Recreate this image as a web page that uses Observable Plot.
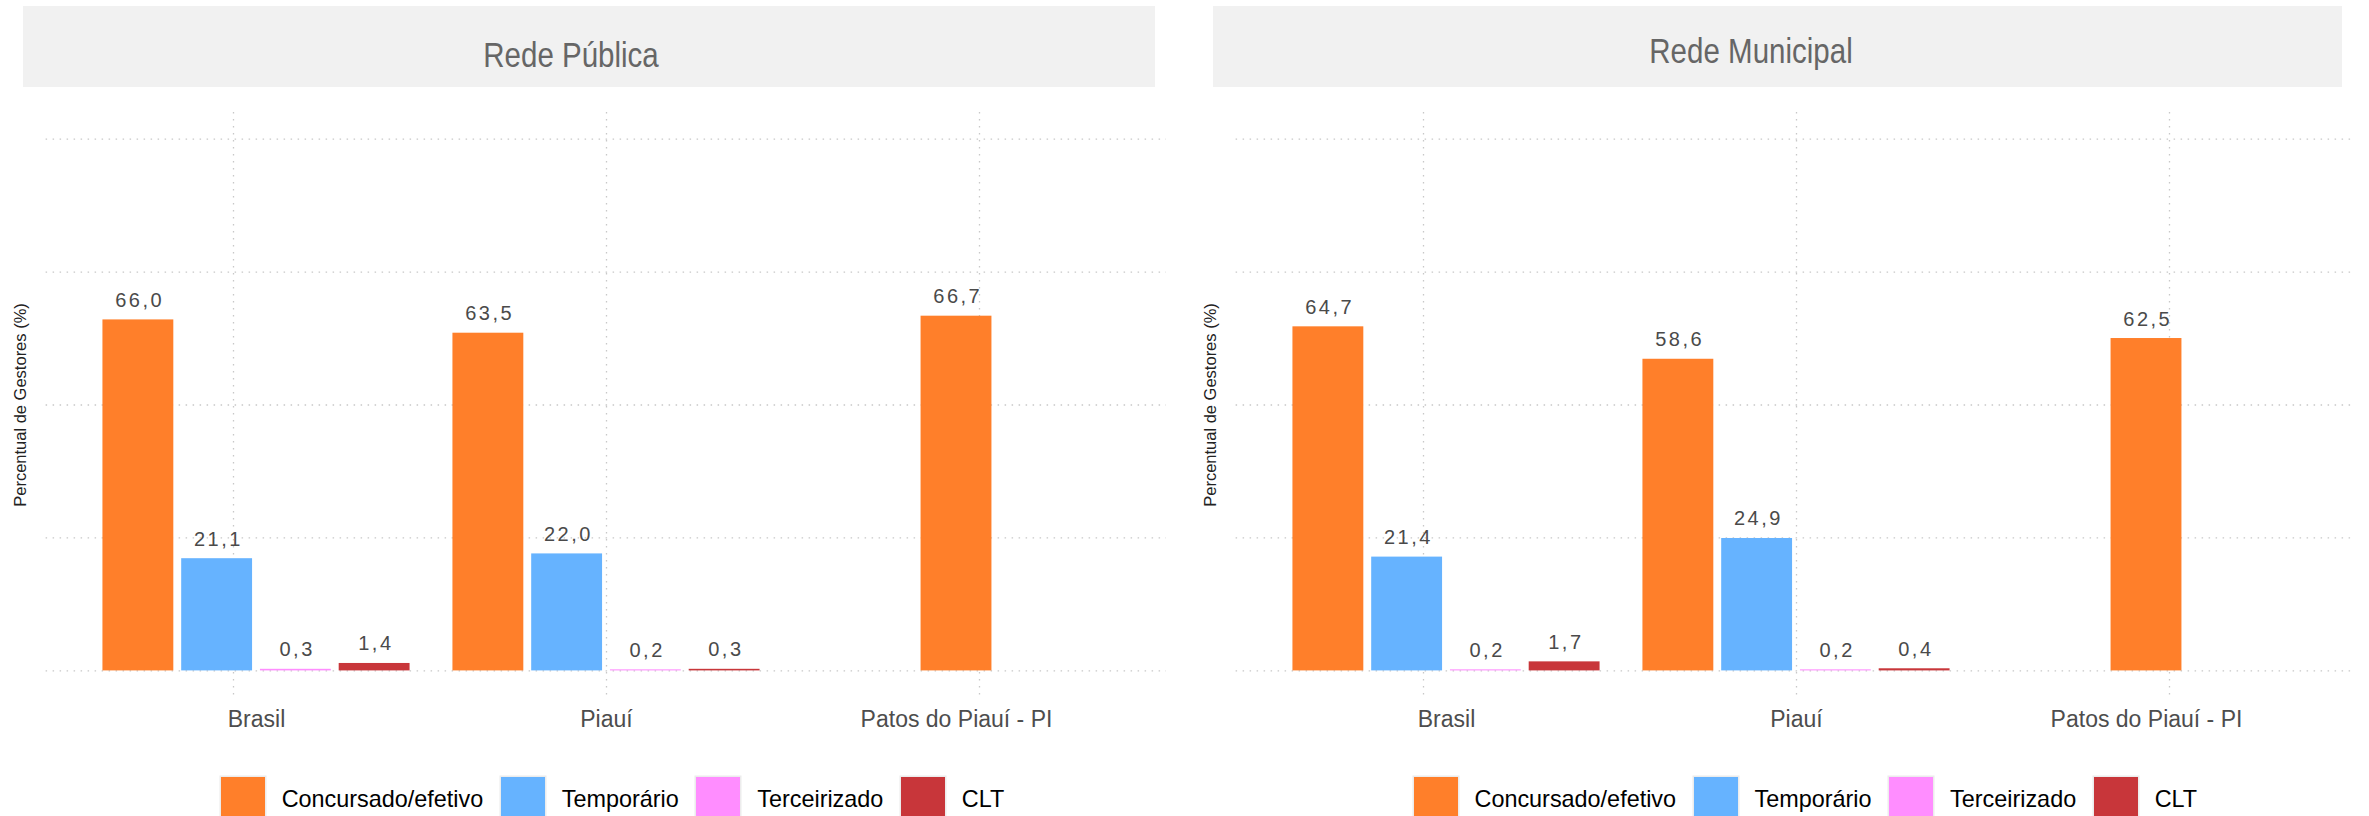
<!DOCTYPE html>
<html>
<head>
<meta charset="utf-8">
<script src="https://cdn.jsdelivr.net/npm/d3@7"></script>
<script src="https://cdn.jsdelivr.net/npm/@observablehq/plot@0.6"></script>
<style>
html, body { margin: 0; padding: 0; background: #fff; overflow: hidden; }
#root { position: relative; width: 2369px; height: 816px; overflow: hidden;
  font-family: "Liberation Sans", Arial, Helvetica, sans-serif; }
.panel { position: absolute; top: 95px; }
.panel svg { position: absolute; left: 0; top: 0; overflow: visible; }
.legend { position: absolute; top: 777px; display: flex; align-items: flex-start; }
.legend .key { width: 44px; height: 44px; box-shadow: 0 0 0 1.5px #ececec; margin-right: 17px; }
.legend .lab { font-size: 23.4px; line-height: 44px; color: #000; margin-right: 17.5px; white-space: nowrap; }
</style>
</head>
<body>
<div id="root"></div>
<script>
// ---------- dados ----------
const categorias = ["Brasil", "Piauí", "Patos do Piauí - PI"];
const tipos = ["Concursado/efetivo", "Temporário", "Terceirizado", "CLT"];
const cores = ["#FF7F2A", "#66B3FF", "#FF8DFF", "#C8363A"];
const paineis = ["Rede Pública", "Rede Municipal"];
const yTicks = [0, 25, 50, 75, 100];
const yLabel = "Percentual de Gestores (%)";

// valores (%) na ordem de `tipos`; null = sem barra
const publicaBrasil = [66.0, 21.1, 0.3, 1.4];
const publicaPiaui = [63.5, 22.0, 0.2, 0.3];
const publicaPatos = [66.7, null, null, null];
const municipalBrasil = [64.7, 21.4, 0.2, 1.7];
const municipalPiaui = [58.6, 24.9, 0.2, 0.4];
const municipalPatos = [62.5, null, null, null];

// barras lado a lado (como position_dodge2 com padding 0.1): posição k entre n barras do grupo
function linhas(series) {
  const rows = [];
  series.forEach((vals, i) => {
    const presentes = vals.map((v, j) => [v, j]).filter(([v]) => v != null);
    const n = presentes.length;
    presentes.forEach(([v, j], k) => {
      rows.push({categoria: categorias[i], tipo: tipos[j], valor: v,
        x1: k - n / 2 + 0.05, x2: k - n / 2 + 0.95, xm: k - n / 2 + 0.5});
    });
  });
  return rows;
}
const dadosPaineis = [
  linhas([publicaBrasil, publicaPiaui, publicaPatos]),
  linhas([municipalBrasil, municipalPiaui, municipalPatos])
];

// ---------- layout ----------
const layout = [
  {left: 0, width: 1180, marginRight: 14, strip: [23, 1155], titleX: 571, titleY: 67, legendLeft: 220.7},
  {left: 1190.4, width: 1178, marginRight: 12.4, strip: [1213, 2342], titleX: 1751, titleY: 63, legendLeft: 1413.5}
];
const root = document.getElementById("root");
const fmt = v => v.toFixed(1).replace(".", ",");
const gridStyle = {stroke: "#c8c8c8", strokeOpacity: 1, strokeWidth: 1.3, strokeDasharray: "1.5,5.5"};
const halfGroup = 2 / 0.9; // 4 barras ocupam 90% da largura de cada categoria

// faixas de título
const stripSvg = d3.select(root).append("svg")
  .attr("width", 2369).attr("height", 92)
  .style("position", "absolute").style("left", "0px").style("top", "0px");
paineis.forEach((t, i) => {
  const L = layout[i];
  stripSvg.append("rect").attr("x", L.strip[0]).attr("y", 6)
    .attr("width", L.strip[1] - L.strip[0]).attr("height", 81).attr("fill", "#f1f1f1");
  stripSvg.append("text")
    .attr("transform", `translate(${L.titleX},${L.titleY}) scale(0.82,1)`)
    .attr("text-anchor", "middle")
    .attr("font-family", "'Liberation Sans', Arial, sans-serif")
    .attr("font-size", 36).attr("fill", "#666666").text(t);
});

// gráficos
paineis.forEach((t, i) => {
  const L = layout[i];
  const rows = dadosPaineis[i];
  const common = {
    width: L.width,
    height: 652,
    marginLeft: 45.6,
    marginRight: L.marginRight,
    marginTop: 17,
    marginBottom: 50,
    style: {fontFamily: "'Liberation Sans', Arial, sans-serif", background: "transparent", overflow: "visible"}
  };
  // camada de fundo: grade e rótulo do eixo y
  const fundo = Plot.plot({
    ...common,
    x: {domain: categorias, paddingInner: 0, paddingOuter: 0.1, axis: null},
    y: {domain: [-5, 105], axis: null},
    marks: [
      Plot.gridY(yTicks, {...gridStyle}),
      Plot.gridX(categorias, {...gridStyle}),
      Plot.text([yLabel], {frameAnchor: "left", rotate: -90, lineAnchor: "top", textAnchor: "middle",
        dx: -32, fontSize: 16.5, fill: "#222", text: d => d})
    ]
  });
  // camada de barras
  const barras = Plot.plot({
    ...common,
    fx: {domain: categorias, paddingInner: 0, paddingOuter: 0.1, label: null},
    x: {domain: [-halfGroup, halfGroup], axis: null},
    y: {domain: [-5, 105], axis: null},
    color: {domain: tipos, range: cores},
    marks: [
      Plot.axisFx({anchor: "bottom", tickSize: 0, tickPadding: 13, fontSize: 23, fill: "#4d4d4d", label: null}),
      Plot.rectY(rows, {fx: "categoria", x1: "x1", x2: "x2", y1: 0, y2: "valor", fill: "tipo"}),
      Plot.text(rows, {fx: "categoria", x: "xm", y: "valor", text: d => fmt(d.valor),
        lineAnchor: "bottom", dy: -13, dx: 1.25, fontSize: 20, fill: "#4a4a4a"})
    ]
  });
  d3.select(barras).selectAll('g[aria-label="text"]').style("letter-spacing", "2.5px");
  const div = document.createElement("div");
  div.className = "panel";
  div.style.left = L.left + "px";
  div.style.width = L.width + "px";
  div.style.height = "652px";
  div.appendChild(fundo);
  div.appendChild(barras);
  root.appendChild(div);

  // legenda
  const leg = document.createElement("div");
  leg.className = "legend";
  leg.style.left = L.legendLeft + "px";
  tipos.forEach((tp, j) => {
    const k = document.createElement("div");
    k.className = "key"; k.style.background = cores[j];
    const s = document.createElement("div");
    s.className = "lab"; s.textContent = tp;
    leg.appendChild(k); leg.appendChild(s);
  });
  root.appendChild(leg);
});
</script>
</body>
</html>
